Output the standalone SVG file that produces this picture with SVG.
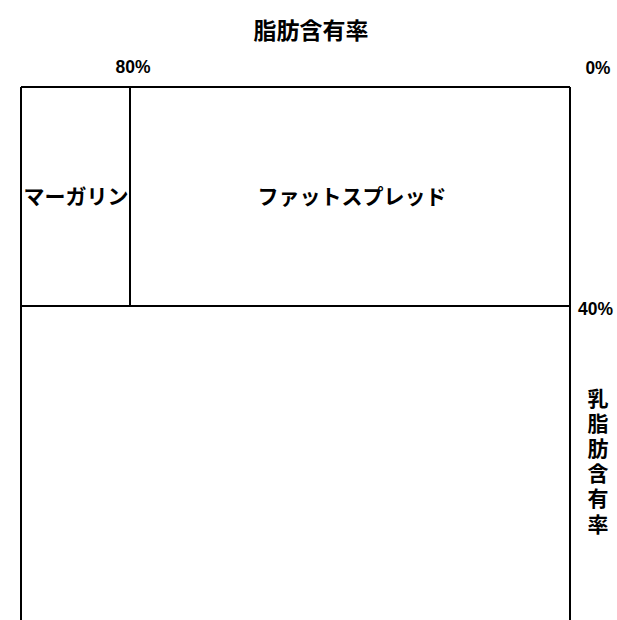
<svg xmlns="http://www.w3.org/2000/svg" width="617" height="620" viewBox="0 0 617 620">
<style>
.ln{stroke:#000;stroke-width:2;fill:none}
.t{font-family:"Liberation Sans","Noto Sans CJK JP",sans-serif;font-size:21px;fill:#000;font-weight:bold}
.h{font-size:23px}
.p{font-size:18px}
</style>
<rect width="617" height="620" fill="#fff"/>
<g id="axes">
<text class="t h" x="311" y="39" text-anchor="middle">脂肪含有率</text>
<text class="t p" x="133" y="73" text-anchor="middle" textLength="35" lengthAdjust="spacingAndGlyphs">80%</text>
<text class="t p" x="598" y="74" text-anchor="middle" textLength="25" lengthAdjust="spacingAndGlyphs">0%</text>
<text class="t p" x="578" y="315" textLength="35" lengthAdjust="spacingAndGlyphs">40%</text>
<g class="t" text-anchor="middle">
<text x="598" y="406">乳</text>
<text x="598" y="431">脂</text>
<text x="598" y="456">肪</text>
<text x="598" y="481">含</text>
<text x="598" y="506">有</text>
<text x="598" y="532">率</text>
</g>
</g>
<g id="connectors">
<path class="ln" d="M21,87 H570 M21,87 V620 M570,87 V620 M21,306 H570 M130,87 V306"/>
</g>
<g id="margarine"><text class="t" x="76" y="204" text-anchor="middle">マーガリン</text></g>
<g id="fatspread"><text class="t" x="352" y="204" text-anchor="middle">ファットスプレッド</text></g>
<g id="dairy"></g>
</svg>
